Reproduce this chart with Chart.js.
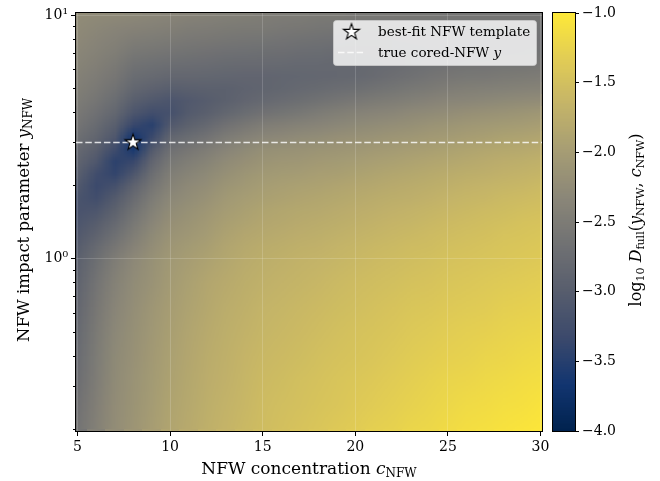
<!DOCTYPE html>
<html>
<head>
<meta charset="utf-8">
<script src="https://cdn.jsdelivr.net/npm/chart.js@4.4.1/dist/chart.umd.min.js"></script>
<style>
  html, body { margin: 0; padding: 0; background: #fff; }
  #wrap { position: relative; width: 660px; height: 481px; }
  #main { position: absolute; left: 0; top: 0; }
  #cbar { position: absolute; left: 543px; top: 0; }
</style>
</head>
<body>
<div id="wrap">
  <canvas id="main" width="660" height="481"></canvas>
  <canvas id="cbar" width="117" height="481"></canvas>
</div>
<script>
// NFW concentration (columns) and impact parameter (rows, top to bottom)
const cValues = [5, 6, 7, 8, 9, 10, 11, 12, 13, 14, 15, 16, 17, 18, 19, 20, 21, 22, 23, 24, 25, 26, 27, 28, 29, 30];
const yRows = [10.0, 8.91, 7.94, 7.08, 6.31, 5.62, 5.01, 4.47, 3.98, 3.55, 3.16, 2.82, 2.51, 2.24, 2.00,
               1.78, 1.58, 1.41, 1.26, 1.12, 1.00, 0.794, 0.631, 0.501, 0.398, 0.316, 0.251, 0.200];

// log10 D_full, one array per row of yRows, one value per cValues entry
const logDRows = [
  [-2.25,-2.27,-2.29,-2.31,-2.33,-2.36,-2.39,-2.41,-2.43,-2.45,-2.47,-2.49,-2.50,-2.52,-2.53,-2.55,-2.56,-2.57,-2.58,-2.59,-2.60,-2.60,-2.60,-2.60,-2.60,-2.60],
  [-2.27,-2.32,-2.36,-2.39,-2.41,-2.44,-2.47,-2.49,-2.51,-2.52,-2.53,-2.55,-2.57,-2.59,-2.60,-2.62,-2.63,-2.63,-2.64,-2.64,-2.65,-2.65,-2.65,-2.64,-2.64,-2.64],
  [-2.30,-2.36,-2.41,-2.47,-2.50,-2.53,-2.55,-2.57,-2.59,-2.60,-2.61,-2.63,-2.65,-2.67,-2.68,-2.70,-2.70,-2.70,-2.69,-2.69,-2.69,-2.68,-2.68,-2.67,-2.67,-2.66],
  [-2.33,-2.40,-2.46,-2.56,-2.59,-2.62,-2.64,-2.66,-2.68,-2.69,-2.70,-2.71,-2.73,-2.74,-2.76,-2.77,-2.76,-2.74,-2.73,-2.71,-2.70,-2.69,-2.68,-2.66,-2.65,-2.64],
  [-2.37,-2.44,-2.52,-2.65,-2.69,-2.72,-2.73,-2.75,-2.77,-2.78,-2.78,-2.79,-2.80,-2.80,-2.81,-2.82,-2.79,-2.76,-2.72,-2.69,-2.66,-2.64,-2.63,-2.61,-2.60,-2.58],
  [-2.41,-2.49,-2.58,-2.74,-2.79,-2.83,-2.83,-2.84,-2.85,-2.86,-2.86,-2.85,-2.84,-2.83,-2.81,-2.80,-2.76,-2.71,-2.67,-2.62,-2.58,-2.56,-2.55,-2.53,-2.51,-2.49],
  [-2.45,-2.54,-2.65,-2.84,-2.91,-2.97,-2.95,-2.94,-2.93,-2.90,-2.87,-2.84,-2.80,-2.77,-2.73,-2.70,-2.65,-2.61,-2.56,-2.52,-2.47,-2.45,-2.43,-2.42,-2.40,-2.38],
  [-2.50,-2.60,-2.74,-2.97,-3.07,-3.13,-3.06,-3.00,-2.94,-2.86,-2.80,-2.75,-2.70,-2.65,-2.60,-2.55,-2.51,-2.47,-2.43,-2.39,-2.35,-2.33,-2.31,-2.28,-2.26,-2.24],
  [-2.55,-2.68,-2.84,-3.12,-3.25,-3.20,-3.03,-2.95,-2.84,-2.74,-2.66,-2.61,-2.56,-2.50,-2.45,-2.40,-2.36,-2.33,-2.29,-2.26,-2.22,-2.19,-2.16,-2.13,-2.11,-2.08],
  [-2.62,-2.77,-2.97,-3.35,-3.47,-3.06,-2.92,-2.80,-2.66,-2.57,-2.48,-2.44,-2.40,-2.36,-2.32,-2.28,-2.25,-2.21,-2.18,-2.14,-2.11,-2.08,-2.05,-2.02,-2.00,-1.97],
  [-2.70,-2.87,-3.10,-3.66,-3.32,-2.85,-2.74,-2.63,-2.50,-2.41,-2.33,-2.30,-2.26,-2.23,-2.19,-2.16,-2.13,-2.10,-2.07,-2.04,-2.01,-1.98,-1.95,-1.92,-1.90,-1.87],
  [-2.80,-2.98,-3.28,-3.62,-3.05,-2.68,-2.58,-2.48,-2.36,-2.28,-2.20,-2.17,-2.15,-2.12,-2.10,-2.07,-2.04,-2.01,-1.98,-1.95,-1.92,-1.89,-1.86,-1.83,-1.81,-1.78],
  [-2.88,-3.10,-3.45,-3.35,-2.86,-2.56,-2.46,-2.37,-2.26,-2.19,-2.12,-2.09,-2.07,-2.04,-2.02,-1.99,-1.96,-1.93,-1.90,-1.87,-1.84,-1.81,-1.78,-1.75,-1.73,-1.70],
  [-2.97,-3.26,-3.40,-3.12,-2.72,-2.46,-2.37,-2.28,-2.18,-2.11,-2.05,-2.02,-2.00,-1.97,-1.95,-1.92,-1.89,-1.86,-1.83,-1.80,-1.77,-1.74,-1.72,-1.69,-1.67,-1.64],
  [-3.07,-3.32,-3.20,-2.90,-2.60,-2.38,-2.29,-2.21,-2.11,-2.05,-1.99,-1.96,-1.93,-1.91,-1.88,-1.85,-1.82,-1.79,-1.77,-1.74,-1.71,-1.68,-1.66,-1.63,-1.61,-1.58],
  [-3.15,-3.25,-3.04,-2.76,-2.50,-2.31,-2.23,-2.15,-2.05,-1.99,-1.94,-1.91,-1.88,-1.86,-1.83,-1.80,-1.77,-1.74,-1.72,-1.69,-1.66,-1.63,-1.61,-1.58,-1.56,-1.53],
  [-3.16,-3.12,-2.92,-2.65,-2.42,-2.25,-2.17,-2.09,-2.00,-1.94,-1.89,-1.86,-1.83,-1.81,-1.78,-1.75,-1.72,-1.69,-1.67,-1.64,-1.61,-1.59,-1.56,-1.54,-1.51,-1.49],
  [-3.12,-3.00,-2.80,-2.56,-2.35,-2.19,-2.12,-2.04,-1.95,-1.90,-1.85,-1.82,-1.79,-1.77,-1.74,-1.71,-1.68,-1.65,-1.63,-1.60,-1.57,-1.55,-1.52,-1.50,-1.47,-1.45],
  [-3.06,-2.90,-2.69,-2.48,-2.28,-2.14,-2.07,-2.00,-1.91,-1.85,-1.81,-1.78,-1.75,-1.73,-1.70,-1.67,-1.64,-1.61,-1.59,-1.56,-1.53,-1.51,-1.49,-1.46,-1.44,-1.42],
  [-3.00,-2.79,-2.58,-2.39,-2.22,-2.09,-2.02,-1.95,-1.87,-1.81,-1.77,-1.74,-1.71,-1.69,-1.66,-1.63,-1.60,-1.58,-1.55,-1.53,-1.50,-1.48,-1.46,-1.43,-1.41,-1.39],
  [-2.94,-2.70,-2.47,-2.30,-2.17,-2.05,-1.98,-1.91,-1.84,-1.78,-1.74,-1.71,-1.68,-1.66,-1.63,-1.60,-1.57,-1.55,-1.52,-1.50,-1.47,-1.45,-1.43,-1.41,-1.39,-1.37],
  [-2.88,-2.62,-2.40,-2.25,-2.13,-2.01,-1.93,-1.85,-1.79,-1.74,-1.70,-1.67,-1.64,-1.61,-1.58,-1.55,-1.52,-1.50,-1.47,-1.45,-1.42,-1.40,-1.38,-1.35,-1.33,-1.31],
  [-2.83,-2.57,-2.35,-2.21,-2.09,-1.98,-1.90,-1.82,-1.76,-1.71,-1.66,-1.63,-1.60,-1.57,-1.54,-1.51,-1.48,-1.45,-1.42,-1.40,-1.37,-1.35,-1.33,-1.30,-1.28,-1.26],
  [-2.79,-2.53,-2.31,-2.18,-2.06,-1.95,-1.87,-1.79,-1.73,-1.68,-1.63,-1.60,-1.57,-1.53,-1.50,-1.47,-1.44,-1.41,-1.38,-1.35,-1.32,-1.30,-1.28,-1.25,-1.23,-1.21],
  [-2.75,-2.50,-2.28,-2.16,-2.04,-1.93,-1.85,-1.77,-1.71,-1.65,-1.60,-1.57,-1.54,-1.50,-1.47,-1.44,-1.41,-1.38,-1.34,-1.31,-1.28,-1.26,-1.23,-1.21,-1.18,-1.16],
  [-2.71,-2.47,-2.26,-2.14,-2.02,-1.91,-1.83,-1.75,-1.69,-1.63,-1.57,-1.54,-1.50,-1.47,-1.43,-1.40,-1.37,-1.33,-1.30,-1.26,-1.23,-1.21,-1.18,-1.16,-1.13,-1.11],
  [-2.66,-2.44,-2.24,-2.12,-2.00,-1.89,-1.81,-1.73,-1.67,-1.61,-1.55,-1.51,-1.48,-1.44,-1.41,-1.37,-1.33,-1.30,-1.26,-1.23,-1.19,-1.16,-1.14,-1.11,-1.09,-1.06],
  [-2.62,-2.41,-2.22,-2.10,-1.98,-1.87,-1.79,-1.71,-1.65,-1.59,-1.53,-1.49,-1.45,-1.41,-1.37,-1.33,-1.29,-1.26,-1.22,-1.19,-1.15,-1.12,-1.10,-1.07,-1.05,-1.02]
];

const bestFitC = 8;
const bestFitY = 3;
const trueY = 3;
const xTicks = [5, 10, 15, 20, 25, 30];
const yMajorTicks = [1, 10];
const yMajorLabels = ['10\u2070', '10\u00b9'];
const yMinorTicks = [0.2, 0.3, 0.4, 0.5, 0.6, 0.7, 0.8, 0.9, 2, 3, 4, 5, 6, 7, 8, 9];
const cbarTicks = [-1.0, -1.5, -2.0, -2.5, -3.0, -3.5, -4.0];
const cbarMin = -4, cbarMax = -1;
const legendLabels = ['best-fit NFW template', 'true cored-NFW '];

const xMin = 4.92, xMax = 30.08;
const yMin = 0.196, yMax = 10.2;

const FONT = '"DejaVu Serif", "Liberation Serif", serif';
const cividis = ['#00224e', '#123570', '#3b496c', '#575d6d', '#707173', '#8a8678', '#a59c74', '#c3b369', '#e1cc55', '#fee838'];
const cividisRgb = cividis.map(h => [1, 3, 5].map(i => parseInt(h.slice(i, i + 2), 16)));

function rgbFor(v) {
  let t = (v - cbarMin) / (cbarMax - cbarMin);
  t = Math.max(0, Math.min(1, t)) * (cividisRgb.length - 1);
  const i = Math.min(Math.floor(t), cividisRgb.length - 2);
  const f = t - i;
  const a = cividisRgb[i], b = cividisRgb[i + 1];
  return [0, 1, 2].map(k => Math.round(a[k] + (b[k] - a[k]) * f));
}
const colorFor = v => `rgb(${rgbFor(v).join(',')})`;

// math-ish text: parts are [text, kind], kind r=roman, i=italic, s=subscript
function drawRich(ctx, parts, x, y, size, align) {
  const fontFor = k => k === 'i' ? `italic ${size}px ${FONT}` : k === 's' ? `${Math.round(size * 0.7)}px ${FONT}` : `${size}px ${FONT}`;
  let w = 0;
  parts.forEach(([t, k]) => { ctx.font = fontFor(k); w += ctx.measureText(t).width; });
  let cx = align === 'center' ? x - w / 2 : x;
  ctx.textAlign = 'left';
  ctx.textBaseline = 'alphabetic';
  parts.forEach(([t, k]) => {
    ctx.font = fontFor(k);
    ctx.fillText(t, cx, k === 's' ? y + size * 0.2 : y);
    cx += ctx.measureText(t).width;
  });
}

function makeStar(size, outer, inner) {
  const cv = document.createElement('canvas');
  cv.width = cv.height = size;
  const g = cv.getContext('2d');
  g.beginPath();
  for (let k = 0; k < 10; k++) {
    const r = k % 2 ? inner : outer;
    const a = -Math.PI / 2 + k * Math.PI / 5;
    const px = size / 2 + r * Math.cos(a), py = size / 2 + r * Math.sin(a);
    if (k) g.lineTo(px, py); else g.moveTo(px, py);
  }
  g.closePath();
  g.fillStyle = '#fff';
  g.fill();
  g.lineWidth = 1.1;
  g.strokeStyle = '#000';
  g.stroke();
  return cv;
}
const starImg = makeStar(22, 8.4, 3.3);

// small image of a block of rows, one pixel per cell
function rowsImage(r0, r1) {
  const cv = document.createElement('canvas');
  cv.width = cValues.length;
  cv.height = r1 - r0 + 1;
  const g = cv.getContext('2d');
  const img = g.createImageData(cv.width, cv.height);
  for (let i = r0; i <= r1; i++) {
    logDRows[i].forEach((v, j) => {
      const p = ((i - r0) * cv.width + j) * 4;
      const c = rgbFor(v);
      img.data[p] = c[0]; img.data[p + 1] = c[1]; img.data[p + 2] = c[2]; img.data[p + 3] = 255;
    });
  }
  g.putImageData(img, 0, 0);
  return cv;
}

const heatmapPlugin = {
  id: 'heatmap',
  beforeDraw(chart) {
    const { ctx, chartArea: a, scales: { x, y } } = chart;
    ctx.save();
    ctx.beginPath();
    ctx.rect(a.left, a.top, a.right - a.left, a.bottom - a.top);
    ctx.clip();
    // plain cells first (they show at the outer half-cells)
    const xEdges = [];
    cValues.forEach((c, j) => {
      const prev = j > 0 ? cValues[j - 1] : c - (cValues[1] - cValues[0]);
      xEdges.push((prev + c) / 2);
    });
    xEdges.push(cValues[cValues.length - 1] + (cValues[1] - cValues[0]) / 2);
    const yEdges = [];
    yRows.forEach((v, i) => {
      const prev = i > 0 ? yRows[i - 1] : v * v / yRows[1];
      yEdges.push(Math.sqrt(prev * v));
    });
    const n = yRows.length;
    yEdges.push(Math.sqrt(yRows[n - 1] * yRows[n - 1] * yRows[n - 1] / yRows[n - 2]));
    logDRows.forEach((row, i) => {
      const yT = Math.round(y.getPixelForValue(yEdges[i]));
      const yB = Math.round(y.getPixelForValue(yEdges[i + 1]));
      row.forEach((v, j) => {
        const xL = Math.round(x.getPixelForValue(xEdges[j]));
        const xR = Math.round(x.getPixelForValue(xEdges[j + 1]));
        ctx.fillStyle = colorFor(v);
        ctx.fillRect(xL, yT, xR - xL, yB - yT);
      });
    });
    // shaded between cell centres (like imshow bilinear), rows split where spacing changes
    ctx.imageSmoothingEnabled = true;
    const split = yRows.indexOf(1.0);
    const x0 = x.getPixelForValue(cValues[0]);
    const x1 = x.getPixelForValue(cValues[cValues.length - 1]);
    [[0, split], [split, n - 1]].forEach(([r0, r1]) => {
      const im = rowsImage(r0, r1);
      const y0 = y.getPixelForValue(yRows[r0]);
      const y1 = y.getPixelForValue(yRows[r1]);
      ctx.drawImage(im, 0.5, 0.5, im.width - 1, im.height - 1, x0, y0, x1 - x0, y1 - y0);
    });
    ctx.restore();
  },
  afterDraw(chart) {
    const { ctx, chartArea: a, scales: { y } } = chart;
    ctx.save();
    // spines
    ctx.strokeStyle = '#000';
    ctx.lineWidth = 1;
    ctx.strokeRect(a.left - 0.5, a.top - 0.5, a.right - a.left + 1, a.bottom - a.top + 1);
    // minor log ticks
    ctx.beginPath();
    yMinorTicks.forEach(v => {
      const py = Math.round(y.getPixelForValue(v)) + 0.5;
      ctx.moveTo(a.left - 3, py);
      ctx.lineTo(a.left, py);
    });
    ctx.stroke();
    // axis titles
    ctx.fillStyle = '#000';
    drawRich(ctx, [['NFW concentration ', 'r'], ['c', 'i'], ['NFW', 's']], (a.left + a.right) / 2, 474, 17, 'center');
    ctx.save();
    ctx.translate(29, (a.top + a.bottom) / 2 - 2);
    ctx.rotate(-Math.PI / 2);
    drawRich(ctx, [['NFW impact parameter ', 'r'], ['y', 'i'], ['NFW', 's']], 0, 0, 16.5, 'center');
    ctx.restore();
    // legend
    const bx = a.right - 209, by = a.top + 7, bw = 203, bh = 45;
    ctx.beginPath();
    ctx.roundRect(bx + 0.5, by + 0.5, bw, bh, 3);
    ctx.fillStyle = 'rgba(255,255,255,0.8)';
    ctx.fill();
    ctx.strokeStyle = 'rgba(204,204,204,0.8)';
    ctx.stroke();
    ctx.drawImage(starImg, bx + 18.5 - 11, by + 12 - 11);
    ctx.beginPath();
    ctx.setLineDash([6.5, 2.8]);
    ctx.strokeStyle = 'rgba(255,255,255,0.8)';
    ctx.lineWidth = 1.5;
    ctx.moveTo(bx + 5, by + 32.5);
    ctx.lineTo(bx + 32, by + 32.5);
    ctx.stroke();
    ctx.setLineDash([]);
    ctx.fillStyle = '#000';
    ctx.textBaseline = 'middle';
    ctx.font = `13.5px ${FONT}`;
    ctx.fillText(legendLabels[0], bx + 45, by + 12);
    drawRich(ctx, [[legendLabels[1], 'r'], ['y', 'i']], bx + 45, by + 37, 13.5, 'left');
    ctx.restore();
  }
};

new Chart(document.getElementById('main'), {
  type: 'scatter',
  data: {
    datasets: [
      {
        data: [{ x: bestFitC, y: bestFitY }],
        pointStyle: starImg,
        order: 0
      },
      {
        type: 'line',
        data: [{ x: xMin, y: trueY }, { x: xMax, y: trueY }],
        borderColor: 'rgba(255,255,255,0.8)',
        borderWidth: 1.5,
        borderDash: [6.5, 2.8],
        pointRadius: 0,
        order: 1
      }
    ]
  },
  options: {
    responsive: false,
    devicePixelRatio: 1,
    animation: false,
    layout: { padding: { top: 13, right: 118, bottom: 0, left: 0 } },
    plugins: { legend: { display: false }, tooltip: { enabled: false } },
    scales: {
      x: {
        type: 'linear',
        min: xMin,
        max: xMax,
        afterBuildTicks: s => { s.ticks = xTicks.map(v => ({ value: v })); },
        afterFit: s => { s.height = 50; },
        border: { display: false },
        grid: { color: 'rgba(255,255,255,0.16)', tickColor: '#000', tickLength: 5, lineWidth: 1 },
        ticks: { font: { family: FONT, size: 14 }, color: '#000', padding: 3, maxRotation: 0, autoSkip: false }
      },
      y: {
        type: 'logarithmic',
        min: yMin,
        max: yMax,
        afterBuildTicks: s => { s.ticks = yMajorTicks.map(v => ({ value: v })); },
        afterFit: s => { s.width = 76; },
        border: { display: false },
        grid: { color: 'rgba(255,255,255,0.16)', tickColor: '#000', tickLength: 5, lineWidth: 1 },
        ticks: {
          font: { family: FONT, size: 14 }, color: '#000', padding: 3, autoSkip: false,
          callback: v => yMajorLabels[yMajorTicks.indexOf(v)] || ''
        }
      }
    }
  },
  plugins: [heatmapPlugin]
});

const cbarPlugin = {
  id: 'cbar',
  beforeDraw(chart) {
    const { ctx, chartArea: a, scales: { y } } = chart;
    const steps = 256;
    for (let k = 0; k < steps; k++) {
      const v0 = cbarMin + (cbarMax - cbarMin) * k / steps;
      const v1 = cbarMin + (cbarMax - cbarMin) * (k + 1) / steps;
      const p0 = Math.round(y.getPixelForValue(v0));
      const p1 = Math.round(y.getPixelForValue(v1));
      ctx.fillStyle = colorFor((v0 + v1) / 2);
      ctx.fillRect(a.left, p1, a.right - a.left, p0 - p1);
    }
  },
  afterDraw(chart) {
    const { ctx, chartArea: a } = chart;
    ctx.save();
    ctx.strokeStyle = '#000';
    ctx.lineWidth = 1;
    ctx.strokeRect(a.left - 0.5, a.top - 0.5, a.right - a.left + 1, a.bottom - a.top + 1);
    ctx.fillStyle = '#000';
    ctx.translate(98, (a.top + a.bottom) / 2 - 2);
    ctx.rotate(-Math.PI / 2);
    drawRich(ctx, [['log', 'r'], ['10', 's'], [' ', 'r'], ['D', 'i'], ['full', 's'], ['(', 'r'], ['y', 'i'], ['NFW', 's'], [', ', 'r'], ['c', 'i'], ['NFW', 's'], [')', 'r']], 0, 0, 16, 'center');
    ctx.restore();
  }
};

new Chart(document.getElementById('cbar'), {
  type: 'scatter',
  data: { datasets: [] },
  options: {
    responsive: false,
    devicePixelRatio: 1,
    animation: false,
    layout: { padding: { top: 13, right: 0, bottom: 50, left: 10 } },
    plugins: { legend: { display: false }, tooltip: { enabled: false } },
    scales: {
      x: { display: false },
      y: {
        position: 'right',
        min: cbarMin,
        max: cbarMax,
        afterBuildTicks: s => { s.ticks = cbarTicks.map(v => ({ value: v })); },
        afterFit: s => { s.width = 85; },
        border: { display: false },
        grid: { drawOnChartArea: false, tickColor: '#000', tickLength: 4 },
        ticks: {
          font: { family: FONT, size: 14 }, color: '#000', padding: 3, autoSkip: false,
          callback: v => (v < 0 ? '\u2212' : '') + Math.abs(v).toFixed(1)
        }
      }
    }
  },
  plugins: [cbarPlugin]
});
</script>
</body>
</html>
